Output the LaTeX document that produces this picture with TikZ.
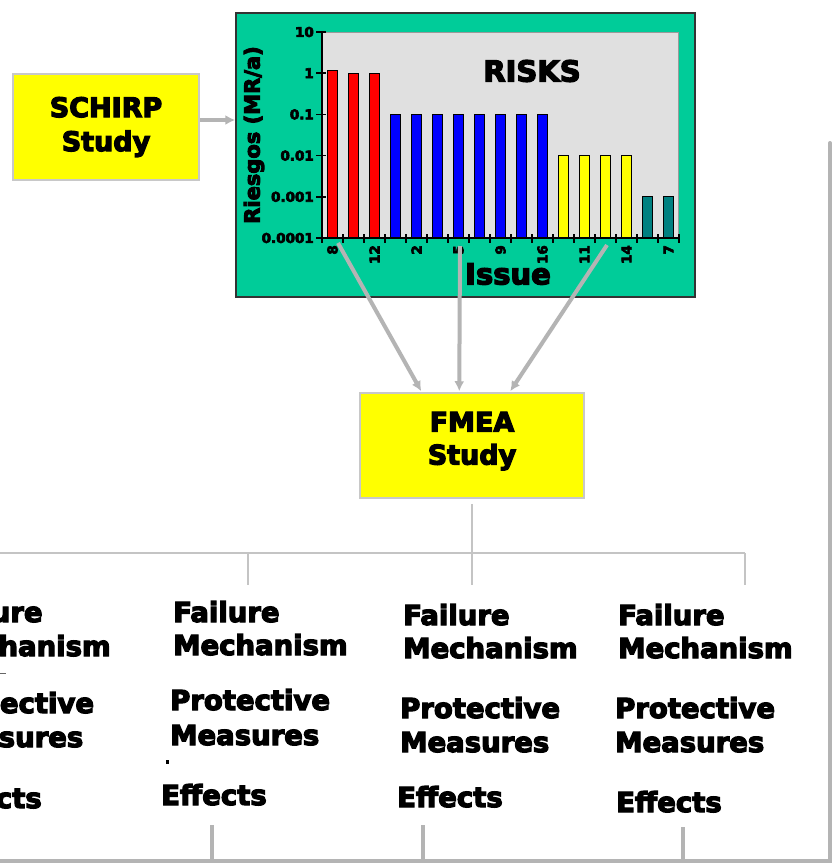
\documentclass[tikz,border=0pt]{standalone}
\usepackage{fontspec}
\setmainfont{DejaVu Sans}
\newfontfamily\heavy{DejaVu Sans Bold}[FakeBold=4.5]
\usetikzlibrary{arrows.meta,calc}

\definecolor{chartgreen}{HTML}{00CC99}
\definecolor{plotgray}{HTML}{E0E0E0}
\definecolor{plotedge}{HTML}{9A9A9A}
\definecolor{barred}{HTML}{FF0000}
\definecolor{barblue}{HTML}{0000FF}
\definecolor{baryellow}{HTML}{FFFF00}
\definecolor{barteal}{HTML}{008080}
\definecolor{boxyellow}{HTML}{FFFF00}
\definecolor{boxedge}{HTML}{C8C8C8}
\definecolor{flowgray}{HTML}{B4B4B4}
\definecolor{treegray}{HTML}{C4C4C4}

\tikzset{
  studybox/.style={draw=boxedge, line width=1.5pt, fill=boxyellow, align=center,
    inner sep=0pt, font=\heavy\fontsize{27}{34}\selectfont},
  flowarrow/.style={draw=flowgray, line width=4pt, -{Latex[length=10pt,width=10pt]}},
  returnline/.style={draw=flowgray, line width=4pt},
  treeline/.style={draw=treegray, line width=2pt},
  colword/.style={anchor=base west, inner sep=0pt, font=\heavy\fontsize{27.5}{33}\selectfont},
  ticklabel/.style={inner sep=0pt, font=\heavy\fontsize{13.5}{15}\selectfont},
  riskbar/.style={draw=black, line width=0.8pt},
}

\begin{document}
\begin{tikzpicture}[x=1pt,y=-1pt]
  \clip (0,0) rectangle (836,865);
  \fill[white] (0,0) rectangle (836,865);

  % SCHIRP study box
  \node[studybox, minimum width=186pt, minimum height=106pt] (schirp) at (106,127) {SCHIRP\\Study};

  % risk chart panel
  \node[draw=black!80, line width=1.5pt, fill=chartgreen, minimum width=459pt,
        minimum height=284pt, inner sep=0pt] (chart) at (465.5,155) {};
  \fill[plotgray] (322,32) rectangle (678,238);
  \draw[plotedge, line width=1pt] (322,32) -- (678,32) -- (678,238);

  % bars (log scale, one decade = 41.2px)
  \foreach \i/\top/\col in {0/70/barred,1/73.2/barred,2/73.2/barred,
      3/114.4/barblue,4/114.4/barblue,5/114.4/barblue,6/114.4/barblue,
      7/114.4/barblue,8/114.4/barblue,9/114.4/barblue,10/114.4/barblue,
      11/155.6/baryellow,12/155.6/baryellow,13/155.6/baryellow,14/155.6/baryellow,
      15/196.8/barteal,16/196.8/barteal}
    \draw[riskbar, fill=\col] ({332.5+21*\i-4.7},238) rectangle ({332.5+21*\i+4.7},\top);

  % axes and ticks
  \draw[black, line width=1.5pt] (322,32) -- (322,238) -- (679,238);
  \foreach \yv/\t in {32/10,73.2/1,114.4/0.1,155.6/0.01,196.8/0.001,238/0.0001}{
    \draw[black, line width=1.5pt] (316,\yv) -- (326,\yv);
    \node[ticklabel, anchor=east] (ylab\t) at (314,\yv) {\t};
  }
  \foreach \k in {0,...,17}
    \draw[black, line width=1.2pt] ({322+21*\k},234) -- ({322+21*\k},243);
  \foreach \i/\t in {0/8,2/12,4/2,6/5,8/9,10/16,12/11,14/14,16/7}
    \node[ticklabel, rotate=90, anchor=east] (xlab\i) at ({332.5+21*\i},245) {\t};

  \node[inner sep=0pt, rotate=90, font=\heavy\fontsize{21}{24}\selectfont] (ytitle) at (254,135) {Riesgos (MR/a)};
  \node[inner sep=0pt, font=\heavy\fontsize{29}{32}\selectfont] (risks) at (532,71) {RISKS};
  \node[inner sep=0pt, font=\heavy\fontsize{29}{32}\selectfont] (issue) at (508,274) {Issue};

  % FMEA study box (extra depth on the last line lifts the text a little)
  \node[studybox, font=\heavy\fontsize{27}{33}\selectfont, minimum width=224pt, minimum height=105pt]
    (fmea) at (472,445.5) {FMEA\\Study\rule[-14.6pt]{0pt}{14.6pt}};

  % arrows into the panel and the FMEA box
  \coordinate (schirpout) at ($(schirp.east)+(0,-7)$);
  \draw[flowarrow] (schirpout) -- (schirpout -| chart.west);
  \coordinate (from8) at (338,243);
  \coordinate (from5) at (460,246);
  \coordinate (from14) at (607,245);
  \draw[flowarrow] (from8) -- ($(fmea.north west)+(62,-1)$);
  \draw[flowarrow] (from5) -- ($(fmea.north west)+(100,-1)$);
  \draw[flowarrow] (from14) -- ($(fmea.north west)+(151,-1)$);

  % branch lines below the FMEA box
  \coordinate (bus) at (472,553);
  \draw[treeline] ($(fmea.south)+(0,5)$) -- (bus);
  \draw[treeline] (-10,553) -- (745,553);
  \foreach \x in {248,472,745}
    \draw[treeline] (\x,553) -- (\x,585);

  % columns of failure analysis entries
  \foreach \c/\xa/\xb/\xc/\ya/\yb/\yc/\yd/\ye in {
      1/-64/-66/-64/622/656/713/747/808,
      2/173/170/161/622/655/710/745/805,
      3/403/400/397/625/658/718/752/807,
      4/618/615/616/625/658/718/752/812}{
    \node[colword] (fail\c) at (\xa,\ya) {Failure};
    \node[colword] (mech\c) at (\xa,\yb) {Mechanism};
    \node[colword] (prot\c) at (\xb,\yc) {Protective};
    \node[colword] (meas\c) at (\xb,\yd) {Measures};
    \node[colword] (eff\c) at (\xc,\ye) {Effects};
  }
  \fill[black] (166,760) rectangle (169,764);
  \draw[black!60, line width=1pt] (0,673) -- (6,673);

  % return path back to the top
  \coordinate (ret2) at (212,825);
  \coordinate (ret3) at (423,825);
  \coordinate (ret4) at (683,827);
  \coordinate (corner) at (830,861);
  \foreach \r in {ret2,ret3,ret4}
    \draw[returnline] (\r) -- (\r |- corner);
  \draw[returnline, line cap=round] (-10,861) -- (corner) -- (830,143);
\end{tikzpicture}
\end{document}
